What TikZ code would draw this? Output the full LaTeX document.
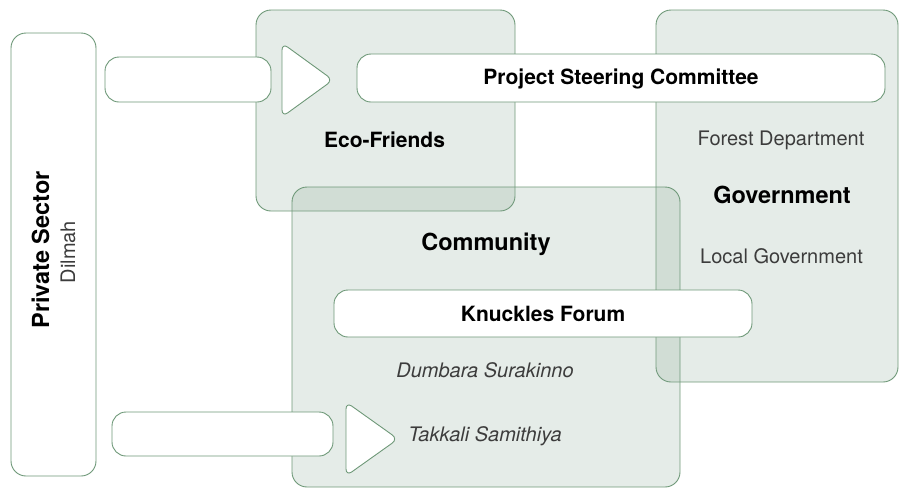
\documentclass[tikz,border=0pt]{standalone}
\usepackage{fontspec}
\setmainfont{TeX Gyre Heros}
\definecolor{edge}{HTML}{6E9878}
\definecolor{tint}{HTML}{7FA08A}
\definecolor{soft}{HTML}{3C3C3C}
\begin{document}
\begin{tikzpicture}[x=1pt,y=-1pt,
 group/.style={draw=edge, line width=0.9pt, fill=tint, fill opacity=0.2, rounded corners=15pt},
 pill/.style={draw=edge, line width=0.9pt, fill=white, rounded corners=14pt},
 tri/.style={draw=edge, line width=0.9pt, fill=white, rounded corners=7pt},
 lbl/.style={font=\fontsize{21}{25}\selectfont\bfseries, anchor=base, inner sep=0pt},
 big/.style={font=\fontsize{23.5}{28}\selectfont\bfseries, anchor=base, inner sep=0pt},
 thin/.style={font=\fontsize{20}{24}\selectfont, text=soft, anchor=base, inner sep=0pt},
 thinit/.style={font=\fontsize{20}{24}\selectfont\itshape, text=soft, anchor=base, inner sep=0pt}]
\useasboundingbox (0,0) rectangle (900,488);
% private sector column
\path[pill, rounded corners=15pt] (11,33) rectangle (96,476);
% groups
\path[group] (256,10) rectangle (515,211);
\path[group] (656,10) rectangle (898,382);
\path[group] (292,187) rectangle (680,487);
% white bars
\path[pill] (105,57) rectangle (271,102);
\path[pill] (357,54) rectangle (885,102);
\path[pill] (334,290) rectangle (752,337);
\path[pill] (112,412) rectangle (333,456);
% triangles
\path[tri] (282,43) -- (333,80) -- (282,117) -- cycle;
\path[tri] (346,402) -- (398,439) -- (346,476) -- cycle;
% texts
\node[lbl] (psc) at (621,84) {Project Steering Committee};
\node[lbl] (kf) at (543,321) {Knuckles Forum};
\node[lbl] (eco) at (384.5,147) {Eco-Friends};
\node[big] (com) at (486,250) {Community};
\node[big] (gov) at (782,203) {Government};
\node[thin] (fd) at (781,145) {Forest Department};
\node[thin] (lg) at (781.5,263) {Local Government};
\node[thinit] (ds) at (485,377) {Dumbara Surakinno};
\node[thinit] (ts) at (485,441) {Takkali Samithiya};
\node[big, rotate=90] (ps) at (49,250) {Private Sector};
\node[thin, rotate=90] (dil) at (75,252) {Dilmah};
\end{tikzpicture}
\end{document}
